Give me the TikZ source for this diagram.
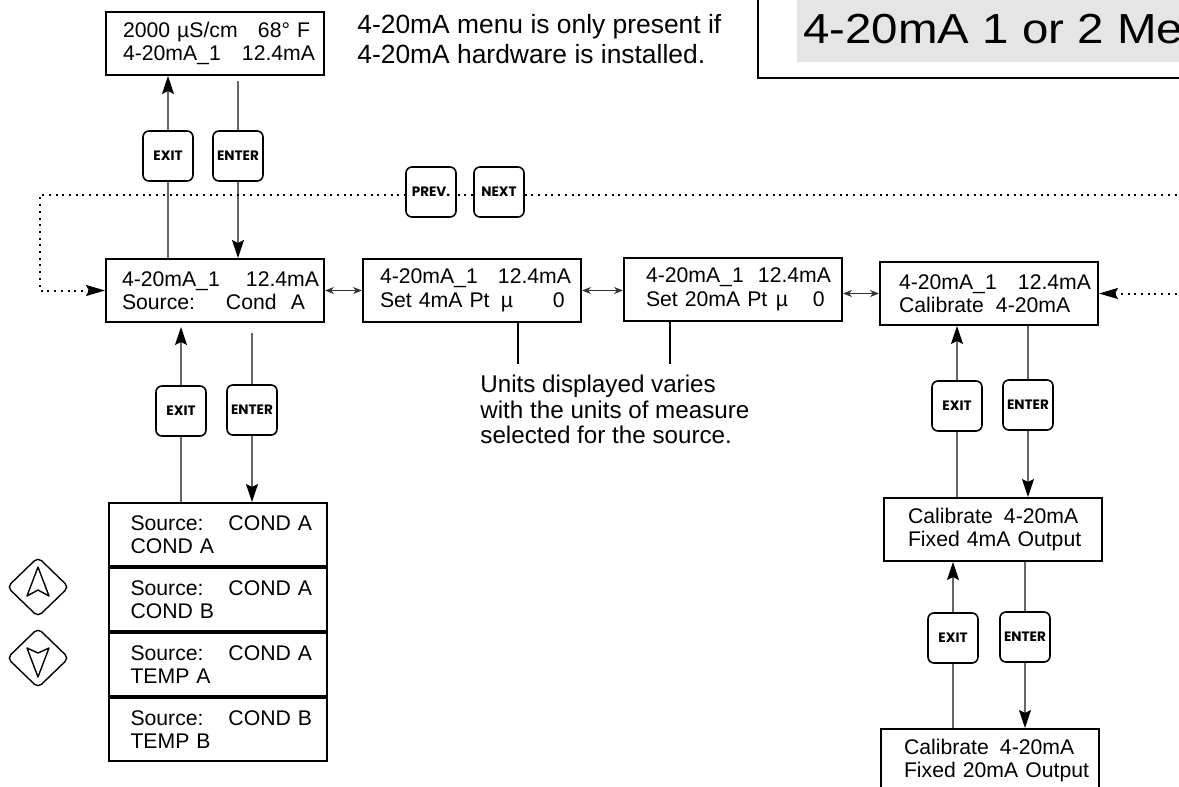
\documentclass[tikz,border=0pt]{standalone}
\usepackage{fontspec}
\usepackage{graphicx}
\setmainfont{Liberation Sans}
\newfontfamily\keyfont{Poppins}
\usetikzlibrary{shapes.geometric, arrows.meta, positioning, calc, backgrounds}

% one display line, with a column stop
\newcommand{\lcdrow}[3]{\mbox{\makebox[#1][l]{#2}#3}}

\begin{document}
\begin{tikzpicture}[
        x=0.5pt, y=-0.5pt,
        % Define styles for the displays, keys and links
        lcd/.style={draw, line width=1pt, anchor=north west, minimum width=109pt, minimum height=31.5pt, inner ysep=0pt, inner xsep=#1, text width={109pt-2*#1}, align=left, font=\fontsize{10.6}{11.8}\selectfont},
        keycap/.style={draw, fill=white, rounded corners=3pt, line width=0.8pt, minimum size=25pt, inner sep=0pt, font=\keyfont\bfseries\fontsize{6.8}{7}\selectfont},
        nav/.style={diamond, draw, rounded corners=2.5pt, line width=0.7pt, minimum width=31pt, minimum height=30pt, inner sep=0pt},
        navtip/.style={draw, line width=0.7pt, line join=round},
        note/.style={anchor=north west, inner sep=0pt, align=left},
        wire/.style={draw=black!60, line width=0.6pt},
        go/.style={wire, -{Stealth[length=9pt, width=6pt, inset=1.5pt, color=black]}},
        hop/.style={draw=black!80, line width=0.5pt, {Stealth[length=4.5pt, width=3.5pt]}-{Stealth[length=4.5pt, width=3.5pt]}},
        scroll/.style={draw, line width=1pt, dash pattern=on 1pt off 2.35pt, {Stealth[length=9.5pt, width=5.5pt, inset=1.5pt]}-{Stealth[length=9.5pt, width=5.5pt, inset=1.5pt]}}
    ]
    \useasboundingbox (0,0) rectangle (1179,787);
    \clip (0,0) rectangle (1179,787);

    % --- Title (cut at the page edge) ---
    \node [draw, line width=1pt, anchor=north west, minimum width=250pt, minimum height=48.5pt, inner sep=0pt] (frame) at (757,-20) {};
    \node [fill=black!10, anchor=north west, minimum width=230pt, minimum height=41pt, inner sep=0pt] (band) at (797,-20) {};
    \node [anchor=base west, inner sep=0pt, font=\fontsize{21}{24}\selectfont] (title) at (803,43) {\scalebox{1.13}[1]{4-20mA 1 or 2 Me}};

    % --- Notes ---
    \node [note, font=\fontsize{13.2}{14.8}\selectfont] (hwnote) at (357,14) {4-20mA menu is only present if\\4-20mA hardware is installed.};
    \node [note, font=\fontsize{12.1}{12.75}\selectfont] (unitnote) at (480,375) {Units displayed varies\\with the units of measure\\selected for the source.};

    % --- Displays ---
    \node [lcd=8.5pt] (disp0) at (105,11) {\lcdrow{67.5pt}{2000 µS/cm}{68° F}\\\lcdrow{59.5pt}{4-20mA\_1}{12.4mA}};

    % Main menu row
    \node [lcd=8pt] (src) at (105,258) {\lcdrow{62pt}{4-20mA\_1}{12.4mA}\\\lcdrow{52pt}{Source:}{Cond\ \ A}};
    \node [lcd=8.5pt] (set4) at (362,258) {\lcdrow{59pt}{4-20mA\_1}{12.4mA}\\\lcdrow{60.5pt}{Set 4mA Pt}{\lcdrow{26pt}{µ}{0}}};
    \node [lcd=11pt] (set20) at (623,257) {\lcdrow{56pt}{4-20mA\_1}{12.4mA}\\\lcdrow{65pt}{Set 20mA Pt}{\lcdrow{18.5pt}{µ}{0}}};
    \node [lcd=9.5pt] (cal) at (879,261) {\lcdrow{59.5pt}{4-20mA\_1}{12.4mA}\\\lcdrow{48.5pt}{Calibrate}{4-20mA}};

    % Source choices
    \node [lcd=11pt] (list1) at (107.5,502) {\lcdrow{49pt}{Source:}{COND A}\\\mbox{COND A}};
    \node [lcd=11pt, below=0pt of list1] (list2) {\lcdrow{49pt}{Source:}{COND A}\\\mbox{COND B}};
    \node [lcd=11pt, below=0pt of list2] (list3) {\lcdrow{49pt}{Source:}{COND A}\\\mbox{TEMP A}};
    \node [lcd=11pt, below=0pt of list3] (list4) {\lcdrow{49pt}{Source:}{COND B}\\\mbox{TEMP B}};

    % Calibration
    \node [lcd=12pt] (fix4) at (883,497) {\lcdrow{48pt}{Calibrate}{4-20mA}\\\mbox{Fixed 4mA Output}};
    \node [lcd=11.5pt] (fix20) at (880,728) {\lcdrow{48pt}{Calibrate}{4-20mA}\\\mbox{Fixed 20mA Output}};

    % --- Keys ---
    \node [keycap] (exA) at (168,156) {EXIT};
    \node [keycap] (enA) at (238,156) {ENTER};
    \node [keycap] (prev) at (431,192) {PREV.};
    \node [keycap] (next) at (499,192) {NEXT};
    \node [keycap] (exB) at (181,411) {EXIT};
    \node [keycap] (enB) at (252,410) {ENTER};
    \node [keycap] (exC) at (957,406) {EXIT};
    \node [keycap] (enC) at (1028,405) {ENTER};
    \node [keycap] (exD) at (953,638) {EXIT};
    \node [keycap] (enD) at (1025,637) {ENTER};

    % Arrow keys
    \node [nav] (up) at (38,587) {};
    \node [nav] (down) at (38,658) {};
    \draw [navtip, shift={(up.center)}] (0,-20) -- (-11,9) -- (0,3) -- (11,9) -- cycle;
    \draw [navtip, shift={(down.center)}] (0,19) -- (-11,-10) -- (0,-5) -- (11,-10) -- cycle;

    % --- Links (behind the keys) ---
    \coordinate (lp) at (40,195);
    \coordinate (rp) at (1200,195);
    \coordinate (t4) at (518,364);
    \coordinate (t20) at (670,364);
    \begin{scope}[on background layer]
        \path [go] (src.north -| exA) -- (disp0.south -| exA);
        \path [go, shorten <=2.5pt] (disp0.south -| enA) -- (src.north -| enA);

        \path [go, shorten >=2pt] (list1.north -| exB) -- (src.south -| exB);
        \path [go, shorten <=5pt] (src.south -| enB) -- (list1.north -| enB);

        \path [go] (fix4.north -| exC) -- (cal.south -| exC);
        \path [go] (cal.south -| enC) -- (fix4.north -| enC);

        \path [go] (fix20.north -| exD) -- (fix4.south -| exD);
        \path [go] (fix4.south -| enD) -- (fix20.north -| enD);

        % Scrolling along the menu row
        \path [hop] (src.east) -- (set4.west);
        \path [hop] (set4.east) -- (set4.east -| set20.west);
        \path [hop] (cal.west -| set20.east) -- (cal.west);

        % PREV./NEXT loop
        \path [scroll] (src.west) -| (lp) -- (rp) |- (cal.east);

        % Pointers to the units note
        \draw [line width=0.6pt] (set4.south -| t4) -- (t4);
        \draw [line width=0.6pt] (set20.south -| t20) -- (t20);
    \end{scope}

\end{tikzpicture}
\end{document}
